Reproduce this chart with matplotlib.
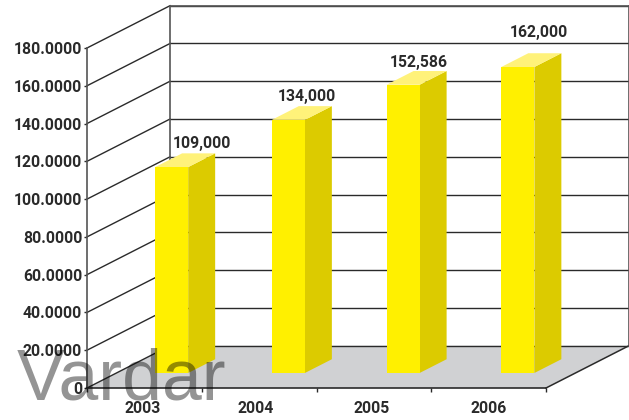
import matplotlib
matplotlib.use('Agg')
import matplotlib.pyplot as plt
from matplotlib.patches import Polygon

years = ['2003', '2004', '2005', '2006']
values = [109000, 134000, 152586, 162000]
value_labels = ['109,000', '134,000', '152,586', '162,000']
y_ticks = [0, 20000, 40000, 60000, 80000, 100000, 120000, 140000, 160000, 180000]
y_tick_labels = ['0', '20.0000', '40.0000', '60.0000', '80.0000', '100.0000',
                 '120.0000', '140.0000', '160.0000', '180.0000']

# label offsets from the front top of each bar, in points
label_dx = [22, 13, 11, 15]
label_dy = [11.5, 11.5, 10.5, 19.5]

# small nudges of the bars and year labels along the axis, in category units
bar_shift = [0, 0.017, 0.017, 0.017]
year_pos = [0.488, 1.473, 2.484, 3.503]

W, H = 629, 420
LEFT, RIGHT, BOTTOM, TOP = 87, 546, 388, 48

# oblique depth of the box, in data units
DEPTH_X = 83 / (RIGHT - LEFT) * 4
DEPTH_Y = 42.3 / (BOTTOM - TOP) * 180000

BAR_OFFSET = 0.337
BAR_WIDTH = 0.288
BAR_D0 = 0.355
BAR_D1 = 0.68

LINE = '#2a2a2a'
AXIS = '#555555'


def proj(x, y, d):
    return (x + d * DEPTH_X, y + d * DEPTH_Y)


plt.rcParams['font.family'] = ['Roboto', 'DejaVu Sans']
fig = plt.figure(figsize=(W / 100, H / 100), dpi=100)
ax = fig.add_axes([LEFT / W, 1 - BOTTOM / H, (RIGHT - LEFT) / W, (BOTTOM - TOP) / H])
ax.set_xlim(0, 4)
ax.set_ylim(0, 180000)
ax.patch.set_visible(False)

# floor
ax.add_patch(Polygon([proj(0, 0, 0), proj(4, 0, 0), proj(4, 0, 1), proj(0, 0, 1)],
                     facecolor='#d0d1d3', edgecolor='none', clip_on=False, zorder=1))

# back wall and side wall grid
for t in y_ticks:
    x0, y0 = proj(0, t, 0)
    x1, y1 = proj(0, t, 1)
    x2, y2 = proj(4, t, 1)
    ax.plot([x0, x1], [y0, y1], color=LINE, lw=1.0, clip_on=False, zorder=1.5)
    ax.plot([x1, x2], [y1, y2], color=LINE, lw=1.0, clip_on=False, zorder=1.5)
ax.plot(*zip(proj(4, 0, 0), proj(4, 0, 1)), color=LINE, lw=1.1, clip_on=False, zorder=1.5)
ax.plot(*zip(proj(0, 0, 1), proj(0, 180000, 1)), color=AXIS, lw=1.2, clip_on=False, zorder=1.6)
ax.plot(*zip(proj(0, 180000, 1), proj(4, 180000, 1)), color=AXIS, lw=1.2, clip_on=False, zorder=1.6)
ax.plot(*zip(proj(4, 0, 1), proj(4, 180000, 1)), color=AXIS, lw=1.2, clip_on=False, zorder=1.6)

# bars
for i, v in enumerate(values):
    x0 = i + BAR_OFFSET + bar_shift[i]
    x1 = x0 + BAR_WIDTH
    front = [proj(x0, 0, BAR_D0), proj(x1, 0, BAR_D0), proj(x1, v, BAR_D0), proj(x0, v, BAR_D0)]
    side = [proj(x1, 0, BAR_D0), proj(x1, 0, BAR_D1), proj(x1, v, BAR_D1), proj(x1, v, BAR_D0)]
    top = [proj(x0, v, BAR_D0), proj(x1, v, BAR_D0), proj(x1, v, BAR_D1), proj(x0, v, BAR_D1)]
    ax.add_patch(Polygon(side, facecolor='#dccb00', edgecolor='none', clip_on=False, zorder=3))
    ax.add_patch(Polygon(top, facecolor='#fff27a', edgecolor='none', clip_on=False, zorder=3))
    ax.add_patch(Polygon(front, facecolor='#fff000', edgecolor='none', clip_on=False, zorder=3.1))
    ax.annotate(value_labels[i], xy=proj((x0 + x1) / 2, v, BAR_D0),
                xytext=(label_dx[i], label_dy[i]), textcoords='offset points',
                ha='center', va='bottom', fontsize=11.3, fontweight='bold',
                color=LINE, zorder=4, annotation_clip=False)

# axes
for side in ['top', 'right']:
    ax.spines[side].set_visible(False)
ax.spines['left'].set_color(AXIS)
ax.spines['left'].set_linewidth(1.2)
ax.spines['bottom'].set_color(LINE)
ax.spines['bottom'].set_linewidth(1.2)
ax.spines['bottom'].set_zorder(3.5)

ax.set_yticks(y_ticks)
ax.set_yticklabels(y_tick_labels, fontsize=11.3, fontweight='bold', color=LINE)
ax.tick_params(axis='y', length=2.5, width=1.0, color=LINE, pad=1)

ax.set_xticks([0, 1, 2, 3, 4])
ax.set_xticklabels([])
ax.set_xticks(year_pos, minor=True)
ax.set_xticklabels(years, minor=True, fontsize=11.3, fontweight='bold', color=LINE)
ax.tick_params(axis='x', which='major', length=3, width=1.0, color=LINE)
ax.tick_params(axis='x', which='minor', length=0, pad=9.5)

# watermark
fig.text(17 / W, 1 - 400 / H, 'Vardar', family='Liberation Sans', fontsize=51.5,
         color='black', alpha=0.42, ha='left', va='baseline', zorder=10)

fig.savefig('out.png', dpi=100)
